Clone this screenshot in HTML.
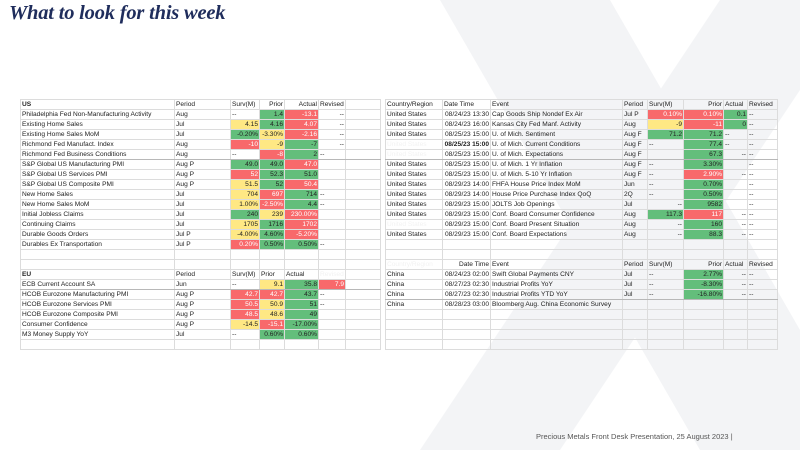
<!DOCTYPE html>
<html><head><meta charset="utf-8"><style>
*{margin:0;padding:0;box-sizing:border-box}
body{width:800px;height:450px;background:#fff;position:relative;overflow:hidden;font-family:"Liberation Sans",sans-serif}
#wm{position:absolute;left:0;top:0}
h1{position:absolute;left:9px;top:2px;font-family:"Liberation Serif",serif;font-style:italic;font-weight:bold;font-size:20.5px;color:#1f2d5c;letter-spacing:-0.2px}
table{position:absolute;border-collapse:collapse;table-layout:fixed;font-size:6.6px;color:#222}
td{height:10px;border:1px solid #dcdcdc;padding:0 1px;white-space:nowrap;overflow:hidden;line-height:9px}
.g{background:#63be7b}.r{background:#f8696b;color:#fff}.y{background:#ffe884}
.n{text-align:right}.f{color:#f2f2f2}.b{font-weight:bold}
.sep td{border-bottom:1px solid #b8b8b8}
#foot{position:absolute;left:536px;top:432px;font-size:7.5px;color:#555}
</style></head><body>
<svg id="wm" width="800" height="450">
<polygon points="440,0 610,0 800,330 800,450 700,450" fill="#f3f4f6"/>
<polygon points="720,0 800,0 800,90 560,450 420,450" fill="#f3f4f6"/>
</svg>
<h1>What to look for this week</h1>

<table style="left:20px;top:99px;width:360px">
<colgroup><col style="width:154px"><col style="width:56px"><col style="width:29px"><col style="width:25px"><col style="width:34px"><col style="width:27px"><col style="width:35px"></colgroup>
<tr><td class="b">US</td><td>Period</td><td>Surv(M)</td><td class="n">Prior</td><td class="n">Actual</td><td>Revised</td><td></td></tr>
<tr><td>Philadelphia Fed Non-Manufacturing Activity</td><td>Aug</td><td>--</td><td class="g n">1.4</td><td class="r n">-13.1</td><td class="n">--</td><td></td></tr>
<tr><td>Existing Home Sales</td><td>Jul</td><td class="y n">4.15</td><td class="g n">4.16</td><td class="r n">4.07</td><td class="n">--</td><td></td></tr>
<tr><td>Existing Home Sales MoM</td><td>Jul</td><td class="g n">-0.20%</td><td class="y n">-3.30%</td><td class="r n">-2.16</td><td class="n">--</td><td></td></tr>
<tr><td>Richmond Fed Manufact. Index</td><td>Aug</td><td class="r n">-10</td><td class="y n">-9</td><td class="g n">-7</td><td class="n">--</td><td></td></tr>
<tr class="sep"><td>Richmond Fed Business Conditions</td><td>Aug</td><td>--</td><td class="r n">-8</td><td class="g n">2</td><td>--</td><td></td></tr>
<tr><td>S&amp;P Global US Manufacturing PMI</td><td>Aug P</td><td class="g n">49.0</td><td class="g n">49.0</td><td class="r n">47.0</td><td></td><td></td></tr>
<tr><td>S&amp;P Global US Services PMI</td><td>Aug P</td><td class="r n">52</td><td class="g n">52.3</td><td class="g n">51.0</td><td></td><td></td></tr>
<tr><td>S&amp;P Global US Composite PMI</td><td>Aug P</td><td class="y n">51.5</td><td class="g n">52</td><td class="r n">50.4</td><td></td><td></td></tr>
<tr><td>New Home Sales</td><td>Jul</td><td class="y n">704</td><td class="r n">697</td><td class="g n">714</td><td>--</td><td></td></tr>
<tr><td>New Home Sales MoM</td><td>Jul</td><td class="y n">1.00%</td><td class="r n">-2.50%</td><td class="g n">4.4</td><td>--</td><td></td></tr>
<tr><td>Initial Jobless Claims</td><td>Jul</td><td class="g n">240</td><td class="y n">239</td><td class="r n">230.00%</td><td></td><td></td></tr>
<tr><td>Continuing Claims</td><td>Jul</td><td class="y n">1705</td><td class="g n">1716</td><td class="r n">1702</td><td></td><td></td></tr>
<tr><td>Durable Goods Orders</td><td>Jul P</td><td class="y n">-4.00%</td><td class="g n">4.60%</td><td class="r n">-5.20%</td><td></td><td></td></tr>
<tr><td>Durables Ex Transportation</td><td>Jul P</td><td class="r n">0.20%</td><td class="g n">0.50%</td><td class="g n">0.50%</td><td>--</td><td></td></tr>
<tr><td></td><td></td><td></td><td></td><td></td><td></td><td></td></tr>
<tr><td></td><td></td><td></td><td></td><td></td><td></td><td></td></tr>
<tr><td class="b">EU</td><td>Period</td><td>Surv(M)</td><td>Prior</td><td>Actual</td><td class="f">Revised</td><td></td></tr>
<tr class="sep"><td>ECB Current Account SA</td><td>Jun</td><td>--</td><td class="y n">9.1</td><td class="g n">35.8</td><td class="r n">7.9</td><td></td></tr>
<tr><td>HCOB Eurozone Manufacturing PMI</td><td>Aug P</td><td class="r n">42.7</td><td class="r n">42.7</td><td class="g n">43.7</td><td>--</td><td></td></tr>
<tr><td>HCOB Eurozone Services PMI</td><td>Aug P</td><td class="r n">50.5</td><td class="y n">50.9</td><td class="g n">51</td><td>--</td><td></td></tr>
<tr><td>HCOB Eurozone Composite PMI</td><td>Aug P</td><td class="r n">48.5</td><td class="y n">48.6</td><td class="g n">49</td><td></td><td></td></tr>
<tr><td>Consumer Confidence</td><td>Aug P</td><td class="y n">-14.5</td><td class="r n">-15.1</td><td class="g n">-17.00%</td><td></td><td></td></tr>
<tr><td>M3 Money Supply YoY</td><td>Jul</td><td>--</td><td class="g n">0.60%</td><td class="g n">0.60%</td><td></td><td></td></tr>
<tr><td></td><td></td><td></td><td></td><td></td><td></td><td></td></tr>
</table>

<table style="left:385px;top:99px;width:392px">
<colgroup><col style="width:57px"><col style="width:48px"><col style="width:132px"><col style="width:25px"><col style="width:36px"><col style="width:40px"><col style="width:24px"><col style="width:30px"></colgroup>
<tr><td>Country/Region</td><td>Date Time</td><td>Event</td><td>Period</td><td>Surv(M)</td><td class="n">Prior</td><td>Actual</td><td>Revised</td></tr>
<tr><td>United States</td><td class="n">08/24/23 13:30</td><td>Cap Goods Ship Nondef Ex Air</td><td>Jul P</td><td class="r n">0.10%</td><td class="r n">0.10%</td><td class="g n">0.1</td><td>--</td></tr>
<tr><td>United States</td><td class="n">08/24/23 16:00</td><td>Kansas City Fed Manf. Activity</td><td>Aug</td><td class="y n">-9</td><td class="r n">-11</td><td class="g n">0</td><td>--</td></tr>
<tr><td>United States</td><td class="n">08/25/23 15:00</td><td>U. of Mich. Sentiment</td><td>Aug F</td><td class="g n">71.2</td><td class="g n">71.2</td><td>--</td><td>--</td></tr>
<tr><td class="f">United States</td><td class="n b">08/25/23 15:00</td><td>U. of Mich. Current Conditions</td><td>Aug F</td><td>--</td><td class="g n">77.4</td><td>--</td><td>--</td></tr>
<tr class="sep"><td class="f">United States</td><td class="n">08/25/23 15:00</td><td>U. of Mich. Expectations</td><td>Aug F</td><td></td><td class="g n">67.3</td><td class="n">--</td><td>--</td></tr>
<tr><td>United States</td><td class="n">08/25/23 15:00</td><td>U. of Mich. 1 Yr Inflation</td><td>Aug F</td><td>--</td><td class="g n">3.30%</td><td></td><td>--</td></tr>
<tr><td>United States</td><td class="n">08/25/23 15:00</td><td>U. of Mich. 5-10 Yr Inflation</td><td>Aug F</td><td>--</td><td class="r n">2.90%</td><td class="n">--</td><td>--</td></tr>
<tr><td>United States</td><td class="n">08/29/23 14:00</td><td>FHFA House Price Index MoM</td><td>Jun</td><td>--</td><td class="g n">0.70%</td><td></td><td>--</td></tr>
<tr><td>United States</td><td class="n">08/29/23 14:00</td><td>House Price Purchase Index QoQ</td><td>2Q</td><td>--</td><td class="g n">0.50%</td><td></td><td>--</td></tr>
<tr><td>United States</td><td class="n">08/29/23 15:00</td><td>JOLTS Job Openings</td><td>Jul</td><td class="n">--</td><td class="g n">9582</td><td></td><td>--</td></tr>
<tr><td>United States</td><td class="n">08/29/23 15:00</td><td>Conf. Board Consumer Confidence</td><td>Aug</td><td class="g n">117.3</td><td class="r n">117</td><td class="n">--</td><td>--</td></tr>
<tr><td class="f">United States</td><td class="n">08/29/23 15:00</td><td>Conf. Board Present Situation</td><td>Aug</td><td class="n">--</td><td class="g n">160</td><td class="n">--</td><td>--</td></tr>
<tr><td>United States</td><td class="n">08/29/23 15:00</td><td>Conf. Board Expectations</td><td>Aug</td><td class="n">--</td><td class="g n">88.3</td><td class="n">--</td><td>--</td></tr>
<tr><td></td><td></td><td></td><td></td><td></td><td></td><td></td><td></td></tr>
<tr><td></td><td></td><td></td><td></td><td></td><td></td><td></td><td></td></tr>
<tr><td class="f">Country/Region</td><td class="n">Date Time</td><td>Event</td><td>Period</td><td>Surv(M)</td><td class="n">Prior</td><td>Actual</td><td>Revised</td></tr>
<tr><td>China</td><td class="n">08/24/23 02:00</td><td>Swift Global Payments CNY</td><td>Jul</td><td>--</td><td class="g n">2.77%</td><td class="n">--</td><td>--</td></tr>
<tr><td>China</td><td class="n">08/27/23 02:30</td><td>Industrial Profits YoY</td><td>Jul</td><td>--</td><td class="g n">-8.30%</td><td class="n">--</td><td>--</td></tr>
<tr class="sep"><td>China</td><td class="n">08/27/23 02:30</td><td>Industrial Profits YTD YoY</td><td>Jul</td><td>--</td><td class="g n">-16.80%</td><td class="n">--</td><td>--</td></tr>
<tr><td>China</td><td class="n">08/28/23 03:00</td><td>Bloomberg Aug. China Economic Survey</td><td></td><td></td><td></td><td></td><td></td></tr>
<tr><td></td><td></td><td></td><td></td><td></td><td></td><td></td><td></td></tr>
<tr><td></td><td></td><td></td><td></td><td></td><td></td><td></td><td></td></tr>
<tr><td></td><td></td><td></td><td></td><td></td><td></td><td></td><td></td></tr>
<tr><td></td><td></td><td></td><td></td><td></td><td></td><td></td><td></td></tr>
</table>

<div id="foot">Precious Metals Front Desk Presentation, 25 August 2023 |</div>
</body></html>
